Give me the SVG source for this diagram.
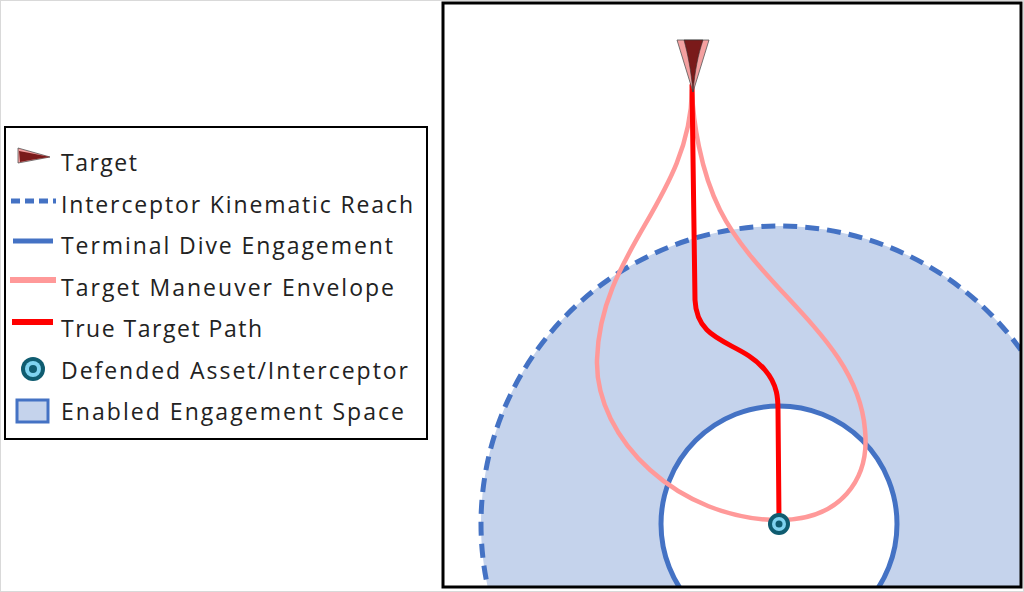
<svg xmlns="http://www.w3.org/2000/svg" width="1024" height="592" viewBox="0 0 1024 592">
<style>
.lbl{font-family:"Open Sans","Liberation Sans",sans-serif;font-size:23px;fill:#222}
.blue{stroke:#4472c4;fill:none}
</style>
<defs>
<clipPath id="frame"><rect x="443" y="3" width="578" height="584"/></clipPath>
</defs>
<rect x="0.5" y="0.5" width="1023" height="591" fill="#fff" stroke="#d9d9d9"/>
<g id="scene" clip-path="url(#frame)">
<circle cx="779" cy="524" r="298" fill="#c5d3ec" stroke="#4472c4" stroke-width="5" stroke-dasharray="14,8"/>
<circle cx="779" cy="524" r="118" fill="#fff" stroke="#4472c4" stroke-width="5"/>
</g>
<g id="connectors" fill="none" stroke-linecap="round">
<path d="M692,90 C690,200 600,250 597,360 C595,440 680,520 779,520 C840,520 870,480 865,430 C858,340 760,290 720,210 C700,170 693,120 692,90" stroke="#ff9999" stroke-width="4.5"/>
<path d="M692,85 L695,300 C697,345 740,340 765,370 C778,385 778,400 778,410 L779,520" stroke="#ff0000" stroke-width="5"/>
</g>
<g id="target">
<path d="M677,40 L709,40 L693,92 Z" fill="#f4a0a0" stroke="#555" stroke-width="0.8"/>
<path d="M684,40 L703,40 C698,55 695,70 693,92 C691,70 688,55 684,40 Z" fill="#7a1a1a" stroke="#333" stroke-width="0.6"/>
</g>
<g id="asset">
<circle cx="779" cy="524" r="11" fill="#0f5c70"/>
<circle cx="779" cy="524" r="7" fill="#7fd3f0"/>
<circle cx="779" cy="524" r="3.5" fill="#0f5c70"/>
</g>
<rect x="443" y="3" width="578" height="584" fill="none" stroke="#000" stroke-width="3"/>
<g id="legend">
<rect x="5" y="127" width="422" height="312" fill="#fff" stroke="#000" stroke-width="2"/>
<path d="M18,148 L50,157 L18,163 Z" fill="#f4a0a0" stroke="#555" stroke-width="0.8"/>
<path d="M19,151 C30,153 40,155 50,157 C40,158 30,160 20,162 Z" fill="#7a1a1a"/>
<line x1="11" y1="201" x2="56" y2="201" class="blue" stroke-width="5" stroke-dasharray="9,5"/>
<line x1="13" y1="241" x2="53" y2="241" class="blue" stroke-width="5"/>
<line x1="10" y1="280" x2="56" y2="280" stroke="#ff9999" stroke-width="6"/>
<line x1="12" y1="322" x2="53" y2="322" stroke="#ff0000" stroke-width="6"/>
<circle cx="33" cy="369" r="12" fill="#0f5c70"/>
<circle cx="33" cy="369" r="8" fill="#7fd3f0"/>
<circle cx="33" cy="369" r="4" fill="#0f5c70"/>
<rect x="17" y="400" width="31" height="22" fill="#c5d3ec" stroke="#4472c4" stroke-width="3"/>
<text class="lbl" x="61" y="171" textLength="76">Target</text>
<text class="lbl" x="61" y="213" textLength="352">Interceptor Kinematic Reach</text>
<text class="lbl" x="61" y="254" textLength="332">Terminal Dive Engagement</text>
<text class="lbl" x="61" y="296" textLength="333">Target Maneuver Envelope</text>
<text class="lbl" x="61" y="337" textLength="201">True Target Path</text>
<text class="lbl" x="61" y="379" textLength="347">Defended Asset/Interceptor</text>
<text class="lbl" x="61" y="420" textLength="343">Enabled Engagement Space</text>
</g>
</svg>
